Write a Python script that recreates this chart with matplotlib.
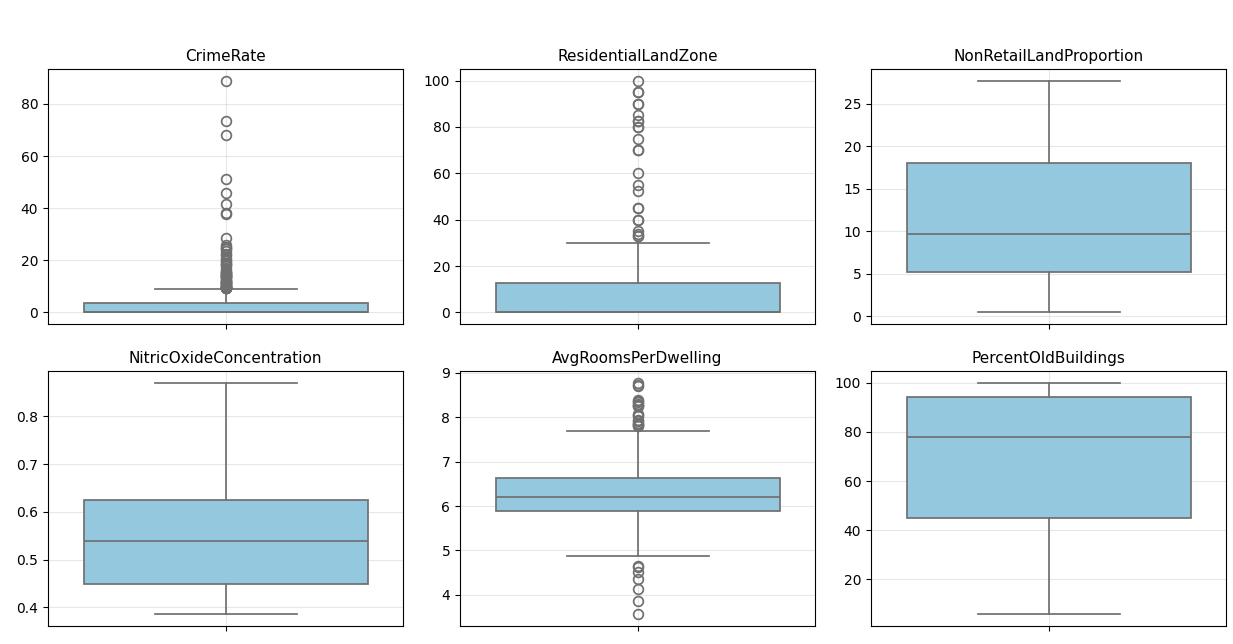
import matplotlib
matplotlib.use("Agg")
import matplotlib.pyplot as plt

titles = ["CrimeRate", "ResidentialLandZone", "NonRetailLandProportion",
          "NitricOxideConcentration", "AvgRoomsPerDwelling", "PercentOldBuildings"]

# box statistics: [whislo, q1, median, q3, whishi]
crime_stats = [0.0063, 0.082, 0.257, 3.68, 8.98]
zone_stats = [0.0, 0.0, 0.0, 12.5, 30.0]
indus_stats = [0.46, 5.19, 9.69, 18.10, 27.74]
nox_stats = [0.385, 0.449, 0.538, 0.624, 0.871]
rooms_stats = [4.88, 5.886, 6.2085, 6.6235, 7.691]
age_stats = [5.8, 45.0, 77.8, 94.0, 100.0]

crime_fliers = [88.98, 73.53, 67.92, 51.14, 45.75, 41.53, 38.35, 37.66, 28.66,
                25.94, 25.05, 24.80, 24.39, 23.65, 22.60, 22.05, 20.72, 20.08,
                19.61, 18.81, 18.50, 18.08, 17.87, 16.81, 15.87, 15.58, 15.29,
                15.18, 15.02, 14.42, 14.33, 14.24, 14.05, 13.91, 13.68, 13.52,
                13.08, 12.80, 12.25, 12.05, 11.95, 11.81, 11.58, 11.16, 11.11,
                11.09, 10.83, 10.67, 10.23, 10.06, 9.92, 9.92, 9.82, 9.72,
                9.60, 9.51, 9.34, 9.32, 9.23, 9.19]
zone_fliers = [100.0, 95.0, 95.0, 90.0, 90.0, 85.0, 82.5, 82.5, 80.0, 80.0,
               75.0, 70.0, 70.0, 60.0, 55.0, 52.5, 45.0, 45.0, 40.0, 40.0,
               35.0, 34.0, 33.0, 33.0]
indus_fliers = []
nox_fliers = []
rooms_fliers = [8.780, 8.725, 8.704, 8.398, 8.375, 8.337, 8.297, 8.266, 8.259,
                8.247, 8.069, 8.040, 8.034, 7.929, 7.923, 7.875, 7.853, 7.831,
                7.820, 7.802, 4.652, 4.628, 4.519, 4.368, 4.138, 3.863, 3.561]
age_fliers = []

all_stats = [crime_stats, zone_stats, indus_stats, nox_stats, rooms_stats, age_stats]
all_fliers = [crime_fliers, zone_fliers, indus_fliers, nox_fliers, rooms_fliers, age_fliers]

W, H = 1233, 644
fig = plt.figure(figsize=(W / 100, H / 100), dpi=100)

lefts = [48, 460, 871]
tops = [69, 371]
aw, ah = 355, 255

box_color = "#93c8df"
line_color = "#707070"

for i, (title, st, fl) in enumerate(zip(titles, all_stats, all_fliers)):
    r, c = divmod(i, 3)
    ax = fig.add_axes([lefts[c] / W, (H - tops[r] - ah) / H, aw / W, ah / H])
    stats = [dict(whislo=st[0], q1=st[1], med=st[2], q3=st[3], whishi=st[4],
                  fliers=fl, label="")]
    ax.bxp(stats, positions=[0], widths=0.8, capwidths=0.4, patch_artist=True,
           boxprops=dict(facecolor=box_color, edgecolor=line_color, linewidth=1.25),
           medianprops=dict(color=line_color, linewidth=1.25),
           whiskerprops=dict(color=line_color, linewidth=1.25),
           capprops=dict(color=line_color, linewidth=1.25),
           flierprops=dict(marker="o", markersize=7, markerfacecolor="none",
                           markeredgecolor=line_color, markeredgewidth=1.25,
                           linestyle="none"))
    ax.set_xlim(-0.5, 0.5)
    ax.set_xticks([0])
    ax.set_xticklabels([""])
    ax.set_title(title, fontsize=11)
    ax.tick_params(labelsize=10)
    ax.grid(True, alpha=0.3)
    ax.set_axisbelow(True)

fig.savefig("out.png", dpi=100)
